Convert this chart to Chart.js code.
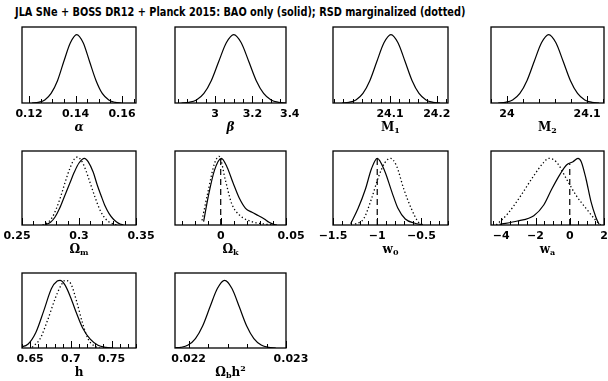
<!DOCTYPE html>
<html>
<head>
<meta charset="utf-8">
<script src="https://cdn.jsdelivr.net/npm/chart.js@4.4.0/dist/chart.umd.min.js"></script>
<style>
  body { margin: 0; background: #fff; }
  #wrap { position: relative; width: 608px; height: 381px; overflow: hidden; background: #fff; }
  #title { position: absolute; left: 15px; top: 5px; font: bold 12px "DejaVu Sans"; white-space: nowrap; transform-origin: 0 0; color: #000; }
  .pan { position: absolute; }
  .xl { position: absolute; width: 120px; margin-left: -60px; text-align: center; font: bold 12px "DejaVu Serif"; color: #000; line-height: 12px; }
  .xl sub { font-size: 8px; line-height: 0; vertical-align: -2px; }
  .xl sup { font-size: 8px; line-height: 0; vertical-align: 5px; }
</style>
</head>
<body>
<div id="wrap">
  <div id="title">JLA SNe + BOSS DR12 + Planck 2015: BAO only (solid); RSD marginalized (dotted)</div>
</div>
<script>
// ---------------------------
// data (peak normalised to 1)
const alphaX = [0.1213, 0.124, 0.1268, 0.1295, 0.1323, 0.135, 0.1378, 0.1405, 0.1433, 0.146, 0.1488, 0.1515, 0.1543, 0.157, 0.1598];
const alphaY = [0, 0.01, 0.045, 0.14, 0.33, 0.61, 0.88, 1, 0.88, 0.61, 0.33, 0.14, 0.045, 0.01, 0];
const alphaTicks = [0.12, 0.14, 0.16];

const betaX = [2.82, 2.86, 2.90, 2.94, 2.98, 3.02, 3.06, 3.10, 3.14, 3.18, 3.22, 3.26, 3.30, 3.34, 3.38];
const betaY = [0, 0.01, 0.045, 0.14, 0.33, 0.61, 0.88, 1, 0.88, 0.61, 0.33, 0.14, 0.045, 0.01, 0];
const betaTicks = [3, 3.2, 3.4];

const m1X = [23.997, 24.012, 24.027, 24.042, 24.057, 24.072, 24.087, 24.102, 24.117, 24.132, 24.147, 24.162, 24.177, 24.192, 24.207];
const m1Y = [0, 0.01, 0.045, 0.14, 0.33, 0.61, 0.88, 1, 0.88, 0.61, 0.33, 0.14, 0.045, 0.01, 0];
const m1Ticks = [24.1, 24.2];

const m2X = [23.989, 23.998, 24.007, 24.016, 24.025, 24.034, 24.043, 24.052, 24.061, 24.070, 24.079, 24.088, 24.097, 24.106, 24.115];
const m2Y = [0, 0.01, 0.045, 0.14, 0.33, 0.61, 0.88, 1, 0.88, 0.61, 0.33, 0.14, 0.045, 0.01, 0];
const m2Ticks = [24, 24.1];

const omX = [0.270, 0.275, 0.279, 0.283, 0.2875, 0.292, 0.2958, 0.300, 0.3048, 0.308, 0.3125, 0.316, 0.3194, 0.323, 0.3264, 0.330, 0.333, 0.336, 0.339];
const omY = [0, 0.04, 0.12, 0.25, 0.44, 0.63, 0.79, 0.93, 1, 0.95, 0.79, 0.6, 0.44, 0.28, 0.17, 0.09, 0.045, 0.015, 0];
const omDotX = [0.268, 0.272, 0.276, 0.280, 0.284, 0.288, 0.292, 0.2955, 0.2986, 0.302, 0.306, 0.310, 0.314, 0.318, 0.322, 0.326, 0.330, 0.334];
const omDotY = [0, 0.03, 0.1, 0.24, 0.43, 0.65, 0.85, 0.98, 1.02, 0.97, 0.82, 0.62, 0.42, 0.24, 0.12, 0.05, 0.015, 0];
const omTicks = [0.25, 0.3, 0.35];

const okX = [-0.0131, -0.0095, -0.0048, 0.0005, 0.0048, 0.0095, 0.0143, 0.019, 0.024, 0.029, 0.0334, 0.037, 0.0405, 0.043];
const okY = [0.05, 0.43, 0.82, 1, 0.87, 0.63, 0.40, 0.25, 0.19, 0.14, 0.09, 0.04, 0.01, 0];
const okDotX = [-0.0143, -0.0095, -0.0048, -0.0012, 0.0036, 0.0084, 0.0143, 0.0238, 0.0334, 0.040];
const okDotY = [0.07, 0.52, 0.92, 1.03, 0.67, 0.32, 0.15, 0.05, 0.015, 0];
const okFid = [0, 0.99];
const okTicks = [0, 0.05];

const w0X = [-1.30, -1.216, -1.133, -1.066, -1.0, -0.916, -0.833, -0.766, -0.683, -0.583, -0.483];
const w0Y = [0.02, 0.25, 0.54, 0.84, 1, 0.81, 0.49, 0.25, 0.09, 0.03, 0];
const w0DotX = [-1.25, -1.15, -1.066, -0.983, -0.916, -0.85, -0.783, -0.70, -0.616, -0.533, -0.466];
const w0DotY = [0.01, 0.1, 0.39, 0.73, 0.93, 1, 0.89, 0.54, 0.25, 0.04, 0];
const w0Fid = [-1, 1];
const w0Ticks = [-1.5, -1, -0.5];

const waX = [-4.1, -3.05, -2.1, -1.52, -1.05, -0.57, -0.19, 0.19, 0.48, 0.67, 0.95, 1.24, 1.52, 1.71];
const waY = [0.01, 0.06, 0.14, 0.3, 0.54, 0.76, 0.9, 0.95, 1, 0.95, 0.69, 0.35, 0.12, 0.01];
const waDotX = [-4.29, -3.62, -2.86, -2.1, -1.52, -1.24, -0.76, -0.19, 0.38, 0.95, 1.52, 1.81];
const waDotY = [0, 0.17, 0.44, 0.74, 0.94, 1, 0.94, 0.69, 0.44, 0.25, 0.07, 0];
const waFid = [0, 0.92];
const waTicks = [-4, -2, 0, 2];

const hX = [0.6371, 0.6476, 0.657, 0.6667, 0.6762, 0.6833, 0.6867, 0.6929, 0.70, 0.7071, 0.7143, 0.7238, 0.7333, 0.7429, 0.752];
const hY = [0.01, 0.06, 0.23, 0.55, 0.88, 0.99, 1, 0.93, 0.74, 0.51, 0.3, 0.13, 0.04, 0.01, 0];
const hDotX = [0.6524, 0.6619, 0.6714, 0.681, 0.6881, 0.6929, 0.70, 0.7071, 0.7143, 0.7214, 0.7286, 0.7357];
const hDotY = [0.01, 0.13, 0.41, 0.74, 0.93, 1, 0.95, 0.69, 0.37, 0.13, 0.03, 0];
const hTicks = [0.65, 0.7, 0.75];

const obX = [0.02186, 0.02192, 0.021995, 0.02207, 0.022145, 0.02222, 0.022295, 0.02237, 0.022445, 0.02252, 0.022595, 0.02267, 0.022745, 0.02282, 0.022895];
const obY = [0.003, 0.01, 0.045, 0.14, 0.33, 0.61, 0.88, 1, 0.88, 0.61, 0.33, 0.14, 0.045, 0.01, 0];
const obTicks = [0.022, 0.023];

// ---------------------------
// panel layout: box = [left, top, right, bottom] in page pixels
const PAD = { left: 22, right: 22, top: 4, bottom: 20 };
const YMAX = 1.11;

const panels = [
  { box: [22, 27, 136, 103], min: 0.117, max: 0.166, minor: 0.005, ticks: alphaTicks, solid: [alphaX, alphaY], label: '<i>α</i>' },
  { box: [175, 27, 286, 103], min: 2.785, max: 3.38, minor: 0.05, ticks: betaTicks, solid: [betaX, betaY], label: '<i>β</i>' },
  { box: [333, 27, 448, 103], min: 23.978, max: 24.224, minor: 0.02, ticks: m1Ticks, solid: [m1X, m1Y], label: 'M<sub>1</sub>' },
  { box: [491, 27, 604, 103], min: 23.98, max: 24.121, minor: 0.02, ticks: m2Ticks, solid: [m2X, m2Y], label: 'M<sub>2</sub>' },
  { box: [22, 151, 136, 225], min: 0.25, max: 0.35, minor: 0.01, ticks: omTicks, solid: [omX, omY], dotted: [omDotX, omDotY], label: 'Ω<sub>m</sub>', pushEdge: true },
  { box: [175, 151, 286, 225], min: -0.035, max: 0.05, minor: 0.01, ticks: okTicks, solid: [okX, okY], dotted: [okDotX, okDotY], fid: okFid, label: 'Ω<sub>k</sub>', pushEdge: true },
  { box: [333, 151, 448, 225], min: -1.5, max: -0.2, minor: 0.1, ticks: w0Ticks, solid: [w0X, w0Y], dotted: [w0DotX, w0DotY], fid: w0Fid, label: 'w<sub>0</sub>' },
  { box: [491, 151, 604, 225], min: -4.6, max: 2, minor: 0.5, ticks: waTicks, solid: [waX, waY], dotted: [waDotX, waDotY], fid: waFid, label: 'w<sub>a</sub>' },
  { box: [22, 273, 136, 348], min: 0.64, max: 0.78, minor: 0.01, ticks: hTicks, solid: [hX, hY], dotted: [hDotX, hDotY], label: 'h' },
  { box: [175, 273, 286, 348], min: 0.02186, max: 0.023, minor: 0.0002, ticks: obTicks, solid: [obX, obY], label: 'Ω<sub>b</sub>h<sup>2</sup>', pushEdge: true }
];

function fmt(v) {
  const s = String(Math.abs(v));
  return v < 0 ? '\u2212' + s : s;
}

function toXY(xs, ys) {
  return xs.map((x, i) => ({ x: x, y: ys[i] }));
}

// frame + inward ticks along the bottom, SM style
const smFrame = {
  id: 'smFrame',
  afterDatasetsDraw(chart, args, opts) {
    const ctx = chart.ctx, a = chart.chartArea, x = chart.scales.x;
    ctx.save();
    ctx.strokeStyle = '#000';
    ctx.lineWidth = 1.3;
    ctx.strokeRect(a.left, a.top, a.right - a.left, a.bottom - a.top);
    ctx.lineWidth = 1;
    const n0 = Math.ceil(x.min / opts.minor - 1e-6), n1 = Math.floor(x.max / opts.minor + 1e-6);
    for (let i = n0; i <= n1; i++) {
      const v = i * opts.minor;
      const major = opts.ticks.some(t => Math.abs(t - v) < opts.minor * 0.01);
      const px = Math.round(x.getPixelForValue(v)) + 0.5;
      ctx.beginPath();
      ctx.moveTo(px, a.bottom);
      ctx.lineTo(px, a.bottom - (major ? 7 : 4));
      ctx.stroke();
    }
    ctx.fillStyle = '#000';
    ctx.font = 'bold 11px "DejaVu Sans"';
    ctx.textAlign = 'center';
    ctx.textBaseline = 'middle';
    opts.ticks.forEach(t => {
      let px = x.getPixelForValue(t);
      // labels sitting on the frame edge are nudged outward, as in the figure
      if (opts.pushEdge) {
        if (px - a.left < 3) px -= 5;
        else if (a.right - px < 3) px += 5;
      }
      ctx.fillText(fmt(t), px, a.bottom + 11);
    });
    ctx.restore();
  }
};

const wrap = document.getElementById('wrap');

panels.forEach(p => {
  const [l, t, r, b] = p.box;
  const holder = document.createElement('div');
  holder.className = 'pan';
  holder.style.left = (l - PAD.left) + 'px';
  holder.style.top = (t - PAD.top) + 'px';
  const cv = document.createElement('canvas');
  cv.width = r - l + PAD.left + PAD.right;
  cv.height = b - t + PAD.top + PAD.bottom;
  cv.style.width = cv.width + 'px';
  cv.style.height = cv.height + 'px';
  holder.appendChild(cv);
  wrap.appendChild(holder);

  const datasets = [{ data: toXY(p.solid[0], p.solid[1]), borderColor: '#000', borderWidth: 1.2 }];
  if (p.dotted) {
    datasets.push({ data: toXY(p.dotted[0], p.dotted[1]), borderColor: '#000', borderWidth: 1.3, borderDash: [1.3, 2.4] });
  }
  if (p.fid) {
    datasets.push({
      data: [{ x: p.fid[0], y: 0 }, { x: p.fid[0], y: p.fid[1] }],
      borderColor: '#000', borderWidth: 1.2, borderDash: [6, 4], tension: 0, cubicInterpolationMode: 'default'
    });
  }

  new Chart(cv, {
    type: 'line',
    data: { datasets: datasets },
    options: {
      responsive: false,
      animation: false,
      devicePixelRatio: 1,
      layout: { padding: PAD },
      elements: {
        point: { radius: 0 },
        line: { tension: 0.4, cubicInterpolationMode: 'monotone', fill: false }
      },
      scales: {
        x: { type: 'linear', min: p.min, max: p.max, display: false },
        y: { min: 0, max: YMAX, display: false }
      },
      plugins: {
        legend: { display: false },
        tooltip: { enabled: false },
        smFrame: { ticks: p.ticks, minor: p.minor, pushEdge: !!p.pushEdge }
      }
    },
    plugins: [smFrame]
  });

  const lab = document.createElement('div');
  lab.className = 'xl';
  lab.innerHTML = p.label;
  lab.style.left = ((l + r) / 2) + 'px';
  lab.style.top = (b + 18) + 'px';
  wrap.appendChild(lab);
});

// squeeze the title to the width it has in the figure
const title = document.getElementById('title');
title.style.transform = 'scaleX(' + (450 / title.offsetWidth) + ')';
</script>
</body>
</html>
